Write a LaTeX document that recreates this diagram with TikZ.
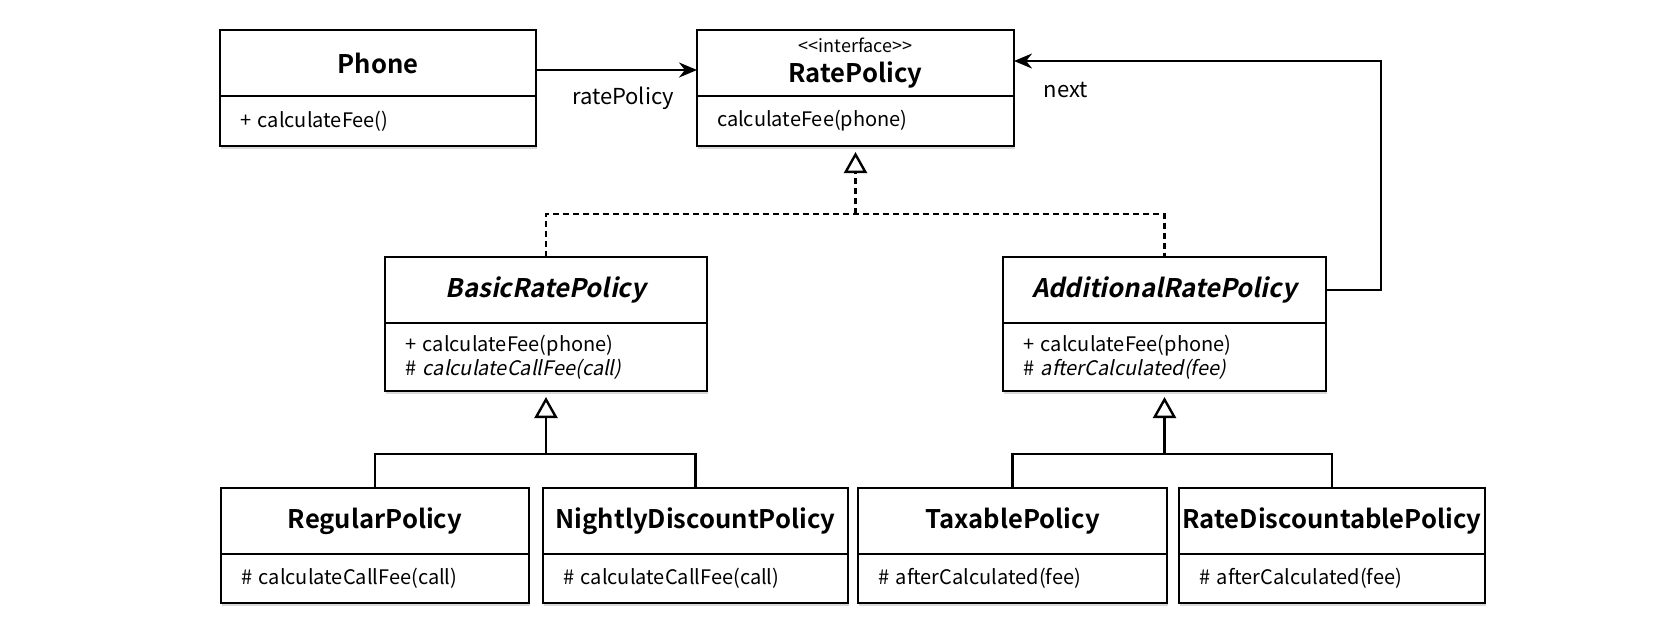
\documentclass[tikz,border=0pt]{standalone}
\usepackage{fontspec}
\setmainfont{Noto Sans CJK KR}[
  ItalicFont=*, ItalicFeatures={FakeSlant=0.2},
  BoldFont=* Bold,
  BoldItalicFont=* Bold, BoldItalicFeatures={FakeSlant=0.2}]
\usetikzlibrary{positioning, arrows.meta, shadows}

\begin{document}
\begin{tikzpicture}[x=0.5pt, y=-0.5pt,
    classhead/.style={draw, line width=1.1pt, fill=white, inner sep=0pt, outer sep=0pt,
      minimum height=33pt, font=\fontsize{12.8}{15}\selectfont\bfseries,
      drop shadow={shadow xshift=0.4pt, shadow yshift=-1.4pt, opacity=0.3}},
    classbody/.style={draw, line width=1.1pt, fill=white, inner xsep=10pt, outer sep=0pt,
      inner ysep=0pt, align=left, font=\fontsize{10}{12}\selectfont,
      drop shadow={shadow xshift=0.4pt, shadow yshift=-1.4pt, opacity=0.3}},
    assoc/.style={line width=1.2pt, -{Stealth[length=9pt, width=7.5pt]}},
    realize/.style={line width=1.2pt, dash pattern=on 3pt off 2pt},
    inherit/.style={line width=1.2pt},
    opentip/.style={-{Triangle[open, fill=white, length=10.5pt, width=11.5pt]}, shorten >=3pt},
    label/.style={font=\fontsize{11}{13}\selectfont}]

    \useasboundingbox (0,0) rectangle (1668,622);

    % Top row: Phone and the interface
    \node[classhead, minimum width=158pt, anchor=north west] (phone) at (220,30) {Phone};
    \node[classbody, text width=138pt, minimum height=25pt, below=0pt of phone] (phonebody) {+ calculateFee()};

    \node[classhead, minimum width=158.5pt, anchor=north west, align=center] (rate) at (697,30)
      {{\fontsize{9}{10}\selectfont\mdseries <{}<interface>{}>}\\RatePolicy};
    \node[classbody, text width=138.5pt, minimum height=25pt, below=0pt of rate] (ratebody) {calculateFee(phone)};

    % Middle row: abstract classes
    \node[classhead, minimum width=161pt, anchor=north west, font=\fontsize{12.8}{15}\selectfont\bfseries\itshape] (basic) at (385,257) {BasicRatePolicy};
    \node[classbody, text width=141pt, minimum height=34pt, below=0pt of basic] (basicbody)
      {+ calculateFee(phone)\\\# \textit{calculateCallFee(call)}};

    \node[classhead, minimum width=161.5pt, anchor=north west, font=\fontsize{12.8}{15}\selectfont\bfseries\itshape] (addl) at (1003,257) {AdditionalRatePolicy};
    \node[classbody, text width=141.5pt, minimum height=34pt, below=0pt of addl] (addlbody)
      {+ calculateFee(phone)\\\# \textit{afterCalculated(fee)}};

    % Bottom row: concrete policies
    \node[classhead, minimum width=154pt, anchor=north west] (regular) at (221,488) {RegularPolicy};
    \node[classbody, text width=134pt, minimum height=24.5pt, below=0pt of regular] (regularbody) {\# calculateCallFee(call)};

    \node[classhead, minimum width=152.5pt, anchor=north west] (nightly) at (543,488) {NightlyDiscountPolicy};
    \node[classbody, text width=132.5pt, minimum height=24.5pt, below=0pt of nightly] (nightlybody) {\# calculateCallFee(call)};

    \node[classhead, minimum width=154.5pt, anchor=north west] (taxable) at (858,488) {TaxablePolicy};
    \node[classbody, text width=134.5pt, minimum height=24.5pt, below=0pt of taxable] (taxablebody) {\# afterCalculated(fee)};

    \node[classhead, minimum width=153pt, anchor=north west] (ratedisc) at (1179,488) {RateDiscountablePolicy};
    \node[classbody, text width=133pt, minimum height=24.5pt, below=0pt of ratedisc] (ratediscbody) {\# afterCalculated(fee)};

    % Association labels
    \node[label] (ratelabel) at (623,98) {ratePolicy};
    \node[label] (nextlabel) at (1066,90) {next};

    % Associations
    \draw[assoc] ([yshift=-3.5pt]phone.east) -- ([yshift=-3.5pt]rate.west);
    \draw[assoc] (addl.east) -- ++(55,0) |- ([yshift=1pt]rate.east);

    % Realization of the interface
    \draw[realize] (basic.north) |- (addl.north |- 0,214) -- (addl.north);
    \draw[realize, opentip] (ratebody.south |- 0,214) -- (ratebody.south);

    % Inheritance
    \draw[inherit, opentip] (basicbody.south |- 0,454) -- (basicbody.south);
    \draw[inherit] (regular.north) |- (nightly.north |- 0,454) -- (nightly.north);
    \draw[inherit, opentip] (addlbody.south |- 0,454) -- (addlbody.south);
    \draw[inherit] (taxable.north) |- (ratedisc.north |- 0,454) -- (ratedisc.north);
\end{tikzpicture}
\end{document}
